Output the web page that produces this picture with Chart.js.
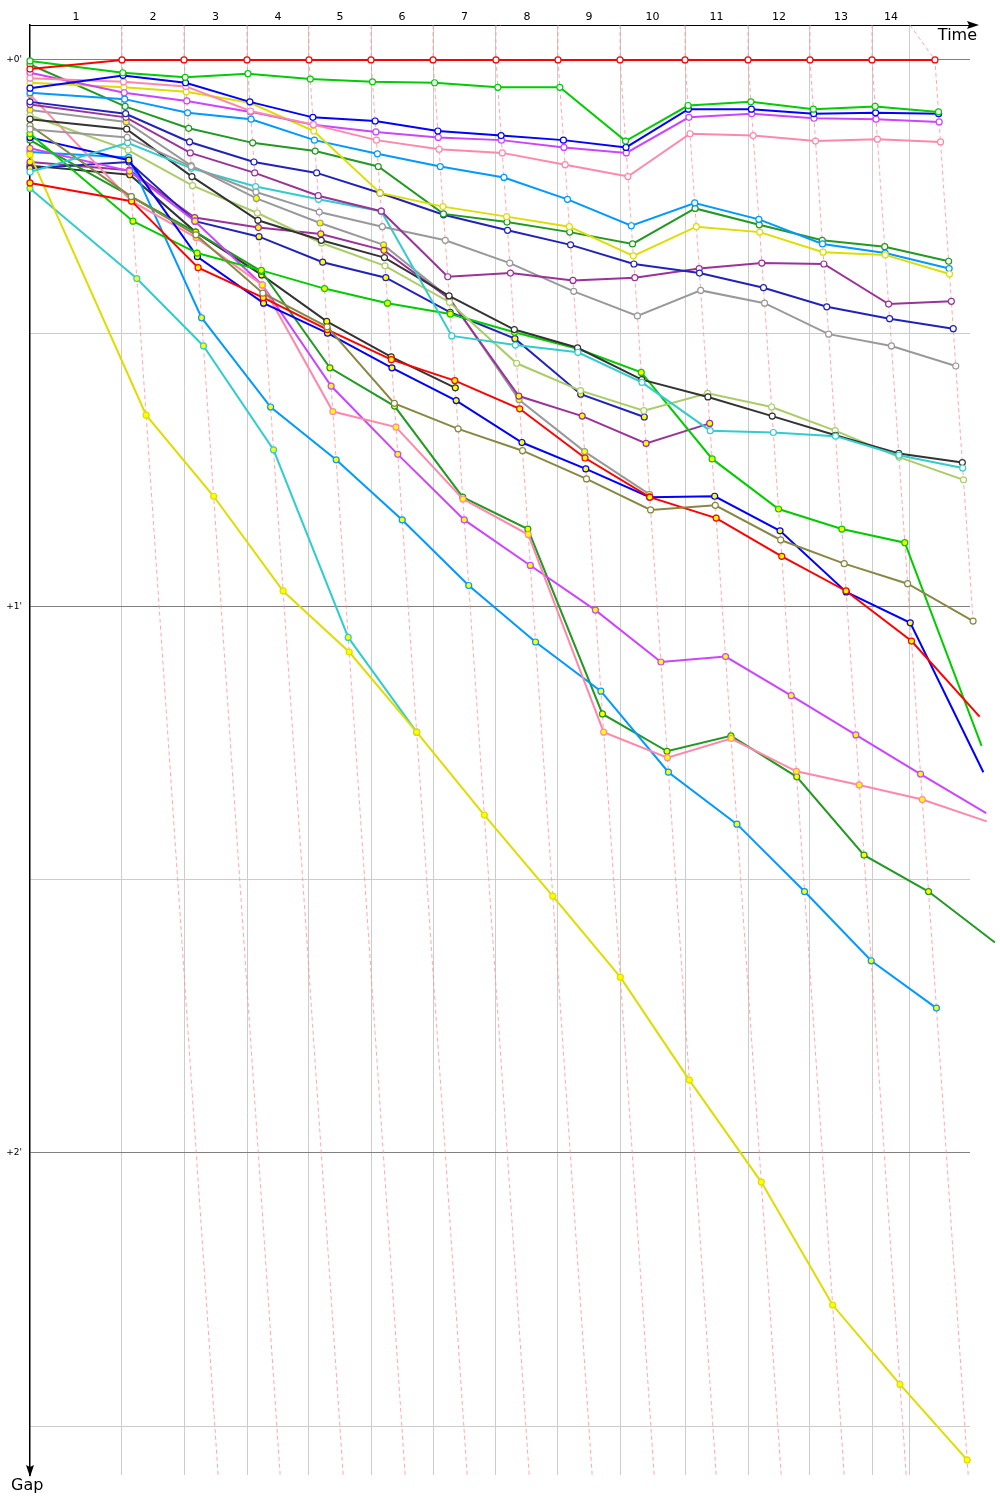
<!DOCTYPE html>
<html><head><meta charset="utf-8">
<script src="https://cdn.jsdelivr.net/npm/chart.js@4/dist/chart.umd.min.js"></script>
<style>html,body{margin:0;padding:0;background:#fff;}#wrap{width:1000px;height:1500px;}</style>
</head><body><div id="wrap"><canvas id="c" width="1000" height="1500"></canvas></div>
<script>
// ---- DATA ----
const lapLabels = ['1','2','3','4','5','6','7','8','9','10','11','12','13','14'];
// leader's cumulative time (s) at end of each lap
const leaderTimes = [148.6, 248.8, 350.6, 450.7, 550.9, 651.1, 752.8, 853.0, 953.2, 1058.2, 1160.0, 1260.1, 1360.3, 1462.0];
// vertical grid lines (s)
const gridTimes = [148.6, 248.8, 350.6, 450.7, 550.9, 651.1, 752.8, 853.0, 953.2, 1058.2, 1160.0, 1260.1, 1360.3, 1421.6];
const gapTicks = [0, 30, 60, 90, 120, 150];
const gapMin = -3.84, gapMax = 155.36, timeMax = 1518.6;

// gaps to leader (s), index 0 = start, then laps 1..n
const gapRed1       = [1.0, 0, 0, 0, 0, 0, 0, 0, 0, 0, 0, 0, 0, 0, 0];
const gapGreen1     = [0.1, 1.4, 1.9, 1.5, 2.1, 2.4, 2.5, 3.0, 3.0, 8.9, 5.0, 4.6, 5.4, 5.1, 5.7];
const gapBlue1      = [3.1, 1.7, 2.5, 4.6, 6.3, 6.7, 7.8, 8.3, 8.8, 9.6, 5.4, 5.4, 5.9, 5.8, 5.9];
const gapPink1      = [2.0, 2.4, 2.9, 5.6, 7.1, 8.8, 9.8, 10.2, 11.5, 12.8, 8.1, 8.3, 8.9, 8.7, 9.0];
const gapViolet1    = [1.4, 3.6, 4.5, 5.7, 7.1, 7.9, 8.5, 8.8, 9.6, 10.2, 6.3, 5.9, 6.4, 6.5, 6.8];
const gapYellow1    = [2.5, 3.0, 3.5, 4.7, 7.8, 14.6, 16.1, 17.2, 18.3, 21.5, 18.3, 18.9, 21.1, 21.4, 23.5];
const gapLightBlue1 = [3.6, 4.3, 5.8, 6.5, 8.8, 10.3, 11.7, 12.9, 15.3, 18.2, 15.7, 17.5, 20.2, 21.2, 22.9];
const gapDarkGreen1 = [0.5, 5.1, 7.5, 9.1, 10.0, 11.7, 16.9, 17.8, 18.9, 20.2, 16.3, 18.1, 19.8, 20.5, 22.1];
const gapNavy1      = [4.6, 5.9, 9.0, 11.2, 12.4, 14.6, 17.0, 18.7, 20.3, 22.4, 23.4, 25.0, 27.1, 28.4, 29.5];
const gapPurple1    = [4.9, 6.3, 10.2, 12.4, 14.9, 16.6, 23.8, 23.4, 24.2, 23.9, 22.9, 22.3, 22.4, 26.8, 26.5];
const gapGray1      = [7.6, 8.5, 11.7, 14.5, 16.7, 18.3, 19.8, 22.3, 25.4, 28.1, 25.3, 26.7, 30.1, 31.4, 33.6];
const gapCyan1      = [12.3, 9.1, 11.9, 13.9, 15.3, 16.6, 30.3, 31.3, 32.1, 35.4, 40.7, 40.9, 41.3, 43.4, 44.8];
const gapBlack1     = [6.5, 7.6, 12.8, 17.6, 19.8, 21.7, 25.9, 29.6, 31.6, 35.1, 37.0, 39.1, 41.2, 43.2, 44.2];
const gapLime1      = [6.1, 9.9, 13.8, 16.8, 20.1, 22.6, 26.6, 33.3, 36.3, 38.5, 36.6, 38.1, 40.7, 43.6, 46.1];
const gapOlive1     = [7.2, 15.0, 19.2, 25.6, 29.3, 37.7, 40.5, 42.9, 46.0, 49.4, 48.9, 52.7, 55.3, 57.5, 61.6];
const gapRed2       = [13.5, 15.5, 22.8, 26.1, 29.6, 32.9, 35.2, 38.3, 43.7, 48.0, 50.3, 54.5, 58.3, 63.8, 72.1];
const gapGreen2     = [8.1, 17.7, 21.2, 23.1, 25.1, 26.7, 27.9, 29.9, 31.7, 34.3, 43.8, 49.3, 51.5, 53.0, 75.3];
const gapBlue2      = [8.5, 11.0, 21.6, 26.7, 30.0, 33.8, 37.4, 42.0, 44.9, 48.0, 47.9, 51.7, 58.4, 61.8, 78.2];
const gapPink2      = [3.8, 15.5, 19.5, 24.7, 38.6, 40.3, 48.2, 52.1, 73.8, 76.6, 74.5, 78.1, 79.6, 81.2, 83.6];
const gapViolet2    = [9.7, 12.2, 17.7, 24.7, 35.8, 43.3, 50.5, 55.5, 60.4, 66.1, 65.5, 69.8, 74.1, 78.4, 82.7];
const gapYellow2    = [10.4, 39.0, 47.9, 58.3, 65.0, 73.8, 82.9, 91.8, 100.7, 112.0, 123.2, 136.7, 145.4, 153.7];
const gapLightBlue2 = [10.1, 10.7, 28.3, 38.1, 43.9, 50.5, 57.7, 63.9, 69.3, 78.2, 83.9, 91.3, 98.9, 104.1];
const gapDarkGreen2 = [8.8, 15.0, 18.9, 23.2, 33.8, 38.0, 48.0, 51.5, 71.8, 75.9, 74.2, 78.7, 87.3, 91.3, 96.9];
const gapNavy2      = [11.9, 11.2, 17.7, 19.4, 22.2, 23.9, 27.7, 30.6, 36.7, 39.2];
const gapPurple2    = [11.2, 12.1, 17.3, 18.4, 19.1, 20.9, 26.2, 36.9, 39.1, 42.1, 39.9];
const gapGray2      = [5.5, 6.8, 11.6, 15.2, 17.9, 20.3, 26.1, 37.3, 43.0, 47.7];
const gapCyan2      = [14.1, 24.0, 31.4, 42.8, 63.4, 73.8];
const gapBlack2     = [11.6, 12.6, 18.9, 23.6, 28.7, 32.6, 36.0];

const seriesGaps = [gapRed1, gapGreen1, gapBlue1, gapPink1, gapViolet1, gapYellow1, gapLightBlue1, gapDarkGreen1,
  gapNavy1, gapPurple1, gapGray1, gapCyan1, gapBlack1, gapLime1, gapOlive1,
  gapRed2, gapGreen2, gapBlue2, gapPink2, gapViolet2, gapYellow2, gapLightBlue2, gapDarkGreen2,
  gapNavy2, gapPurple2, gapGray2, gapCyan2, gapBlack2];
const seriesColors = ['#ff0000','#00cc00','#0000ff','#ff88aa','#cc44ff','#dddd00','#0099ff','#229922',
  '#2222bb','#993399','#999999','#33cccc','#333333','#aacc66','#888844',
  '#ff0000','#00cc00','#0000ff','#ff88aa','#cc44ff','#dddd00','#0099ff','#229922',
  '#2222bb','#993399','#999999','#33cccc','#333333'];
const seriesFills = seriesGaps.map((g, i) => i < 15 ? '#ffffff' : '#ffff00');

// ---- BUILD ----
const driverSets = seriesGaps.map((gaps, i) => ({
  data: gaps.map((g, k) => ({x: k === 0 ? 0 : leaderTimes[k - 1] + g, y: g})),
  showLine: true, borderColor: seriesColors[i], backgroundColor: seriesFills[i], borderWidth: 2,
  pointRadius: 3, pointBorderWidth: 1.2, pointBorderColor: seriesColors[i], pointBackgroundColor: seriesFills[i],
  tension: 0, clip: false, order: 0
}));
const lapSets = lapLabels.map((l, k) => {
  const pts = seriesGaps.filter(g => g.length > k + 1)
    .map(g => ({x: leaderTimes[k] + g[k + 1], y: g[k + 1]}))
    .sort((a, b) => a.y - b.y);
  return {
    data: [{x: gridTimes[k], y: gapMin}, ...pts, {x: leaderTimes[k] + gapMax, y: gapMax}],
    showLine: true, borderColor: 'rgba(255,140,140,0.75)', borderDash: [4, 3], borderWidth: 1,
    pointRadius: 0, tension: 0, clip: false, order: 5
  };
});

const deco = {
  id: 'deco',
  afterDraw(chart) {
    const {ctx, chartArea: a} = chart;
    ctx.save();
    ctx.strokeStyle = '#000'; ctx.fillStyle = '#000'; ctx.lineWidth = 1;
    ctx.beginPath(); ctx.moveTo(a.right, a.top); ctx.lineTo(a.right + 6, a.top); ctx.stroke();
    ctx.beginPath(); ctx.moveTo(a.right + 9, a.top); ctx.lineTo(a.right - 3, a.top - 4);
    ctx.lineTo(a.right - 1, a.top); ctx.lineTo(a.right - 3, a.top + 4); ctx.closePath(); ctx.fill();
    ctx.beginPath(); ctx.moveTo(a.left, a.bottom - 2); ctx.lineTo(a.left, a.bottom); ctx.stroke();
    ctx.beginPath(); ctx.moveTo(a.left, a.bottom + 2); ctx.lineTo(a.left - 4, a.bottom - 10);
    ctx.lineTo(a.left, a.bottom - 8); ctx.lineTo(a.left + 4, a.bottom - 10); ctx.closePath(); ctx.fill();
    ctx.font = '16px "DejaVu Sans"'; ctx.textBaseline = 'middle';
    ctx.textAlign = 'right'; ctx.fillText('Time', 977, 36);
    ctx.textAlign = 'left'; ctx.fillText('Gap', 11, 1486);
    ctx.restore();
  }
};

new Chart(document.getElementById('c'), {
  type: 'scatter',
  data: {datasets: [...driverSets, ...lapSets]},
  options: {
    responsive: false, animation: false, devicePixelRatio: 1,
    layout: {padding: {left: 0, top: 0, right: 30, bottom: 25}},
    plugins: {legend: {display: false}, tooltip: {enabled: false}},
    scales: {
      x: {
        type: 'linear', position: 'top', min: 0, max: timeMax,
        afterFit: s => { s.height = 25; },
        afterBuildTicks: s => { s.ticks = lapLabels.map((l, i) => ({value: ((i ? gridTimes[i - 1] : 0) + gridTimes[i]) / 2})); },
        ticks: {autoSkip: false, maxRotation: 0, padding: 1, color: '#000',
          font: {family: 'DejaVu Sans', size: 11}, callback: (v, i) => lapLabels[i]},
        grid: {display: false, drawTicks: false},
        border: {display: true, color: '#000', width: 1}
      },
      x2: {
        type: 'linear', position: 'bottom', min: 0, max: timeMax,
        afterFit: s => { s.height = 0; },
        afterBuildTicks: s => { s.ticks = gridTimes.map(v => ({value: v})); },
        ticks: {display: false},
        grid: {color: '#cccccc', drawTicks: false, lineWidth: 1},
        border: {display: false}
      },
      y: {
        type: 'linear', reverse: true, min: gapMin, max: gapMax,
        afterFit: s => { s.width = 30; },
        afterBuildTicks: s => { s.ticks = gapTicks.map(v => ({value: v})); },
        ticks: {padding: 8, color: '#000', font: {family: 'DejaVu Sans', size: 9},
          callback: v => (v % 60 === 0 ? '+' + (v / 60) + "'" : '')},
        grid: {drawTicks: false, lineWidth: 1,
          color: c => (c.tick && c.tick.value % 60 === 0 ? '#808080' : '#cccccc')},
        border: {display: true, color: '#000', width: 1.5}
      }
    }
  },
  plugins: [deco]
});
</script></body></html>
